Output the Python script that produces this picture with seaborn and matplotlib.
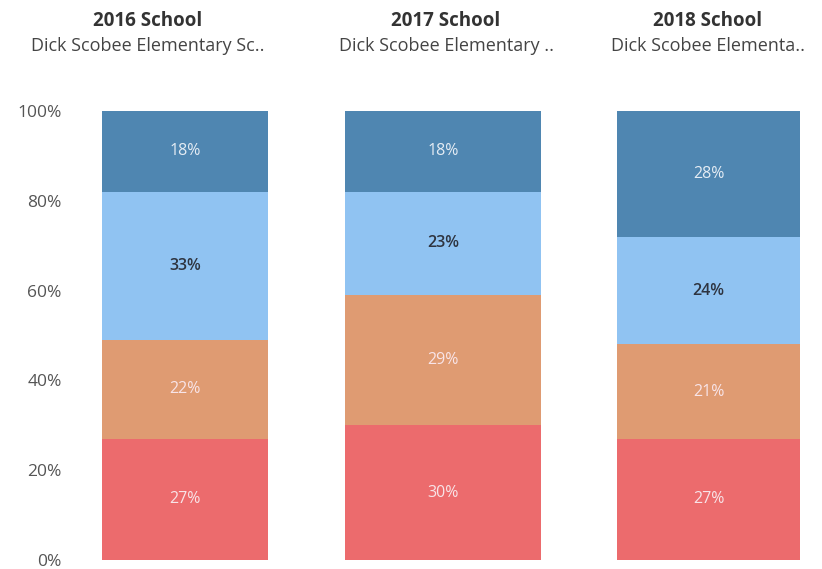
import matplotlib
matplotlib.use("Agg")
import matplotlib.pyplot as plt
import seaborn as sns
import pandas as pd

# Share of students per performance band, bottom to top
years = ["2016", "2017", "2018"]
school_names = ["Dick Scobee Elementary Sc..",
                "Dick Scobee Elementary ..",
                "Dick Scobee Elementa.."]
band_1 = [27, 30, 27]   # red (bottom)
band_2 = [22, 29, 21]   # orange
band_3 = [33, 23, 24]   # light blue
band_4 = [18, 18, 28]   # dark blue (top)

bands = [band_1, band_2, band_3, band_4]
band_colors = ["#ec6b6d", "#df9b72", "#90c3f2", "#4f86b1"]
label_colors = ["#f8e4e8", "#f8e4e8", "#2e3440", "#e4ecf4"]

sns.set_theme(style="white")
plt.rcParams["font.family"] = ["Open Sans", "DejaVu Sans"]

fig = plt.figure(figsize=(8.22, 5.69), dpi=100)
W, H = 822, 569
# bar extents (pixel columns) for each panel, and header centres
panel_x = [(102, 268), (345, 541), (617, 800)]
title_cx = [148, 446, 708]
y_top, y_zero = 111, 560

for i, year in enumerate(years):
    x0, x1 = panel_x[i]
    ax = fig.add_axes([x0 / W, 1 - y_zero / H, (x1 - x0) / W, (y_zero - y_top) / H])
    df = pd.DataFrame({"year": [year], **{f"b{k}": [bands[k][i] / 100] for k in range(4)}})
    bottom = 0.0
    for k in range(4):
        val = bands[k][i] / 100
        sns.barplot(data=df, x="year", y=f"b{k}", color=band_colors[k],
                    bottom=bottom, width=1.0, saturation=1, ax=ax, linewidth=0)
        ax.text(0, bottom + val / 2, f"{bands[k][i]}%", ha="center", va="center",
                fontsize=11.5, color=label_colors[k],
                fontweight="semibold" if k == 2 else "normal")
        bottom += val
    ax.set_xlim(-0.5, 0.5)
    ax.set_ylim(0, 1)
    ax.set_xlabel("")
    ax.set_ylabel("")
    ax.set_xticks([])
    for s in ax.spines.values():
        s.set_visible(False)
    if i == 0:
        ax.set_yticks([0, 0.2, 0.4, 0.6, 0.8, 1.0])
        ax.set_yticklabels(["0%", "20%", "40%", "60%", "80%", "100%"],
                           fontsize=12.5, color="#555555")
        ax.tick_params(axis="y", length=0, pad=29)
    else:
        ax.set_yticks([])
    cx = title_cx[i] / W
    fig.text(cx, 1 - 21 / H, f"{year} School", ha="center", va="center",
             fontsize=13.5, fontweight="bold", color="#333333")
    fig.text(cx, 1 - 46 / H, school_names[i], ha="center", va="center",
             fontsize=13, color="#444444")

fig.savefig("out.png", dpi=100)
